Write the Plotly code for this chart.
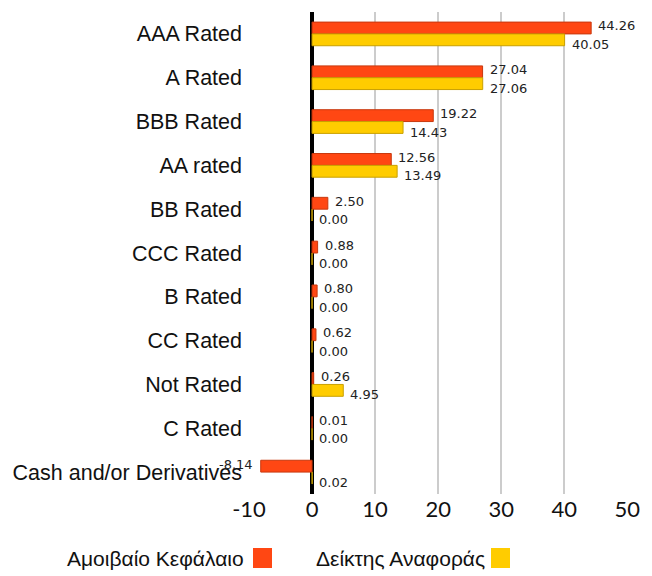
import plotly.graph_objects as go

categories = ['AAA Rated', 'A Rated', 'BBB Rated', 'AA rated', 'BB Rated', 'CCC Rated',
              'B Rated', 'CC Rated', 'Not Rated', 'C Rated', 'Cash and/or Derivatives']
fund = [44.26, 27.04, 19.22, 12.56, 2.50, 0.88, 0.80, 0.62, 0.26, 0.01, -8.14]
benchmark = [40.05, 27.06, 14.43, 13.49, 0.00, 0.00, 0.00, 0.00, 4.95, 0.00, 0.02]
series_names = ['Αμοιβαίο Κεφάλαιο', 'Δείκτης Αναφοράς']
tick_values = [-10, 0, 10, 20, 30, 40, 50]
tick_labels = ['-10', '0', '10', '20', '30', '40', '50']

RED, RED_EDGE = '#FF4713', '#C8380E'
YELLOW, YELLOW_EDGE = '#FFCC00', '#C9A000'
W, H = 652, 576
OFF = 8  # the page body has an 8px margin, so everything sits 8px right/down
L, T = 249 - OFF, 12 - OFF
R, B = W - (628 - OFF), H - (494 - OFF)

fig = go.Figure()
for vals, name, col, edge in [(fund, series_names[0], RED, RED_EDGE),
                              (benchmark, series_names[1], YELLOW, YELLOW_EDGE)]:
    fig.add_trace(go.Bar(
        y=categories, x=vals, name=name, orientation='h',
        marker=dict(color=col, line=dict(color=edge, width=1)),
        showlegend=False, hoverinfo='x+y',
    ))

# value labels: red ones nudged up, yellow ones nudged down, like the original
for vals, dy in [(fund, 8), (benchmark, -10.5)]:
    for cat, v in zip(categories, vals):
        fig.add_annotation(
            x=v, y=cat, xref='x', yref='y', text=f'{v:.2f}', showarrow=False,
            xanchor='left' if v >= 0 else 'right', xshift=5 if v >= 0 else -6,
            yshift=dy, yanchor='middle',
            font=dict(family='DejaVu Sans', size=13, color='#222'),
        )

fig.update_layout(
    width=W, height=H, barmode='group', bargap=0.46, bargroupgap=0,
    margin=dict(l=L, r=R, t=T, b=B, autoexpand=False),
    plot_bgcolor='white', paper_bgcolor='white',
    font=dict(family='Liberation Sans, Arial', color='#111'),
)
fig.update_xaxes(
    range=[-10, 50.1], tickvals=tick_values, ticktext=tick_labels,
    tickfont=dict(family='Lato', size=22, color='#111'),
    showgrid=True, gridcolor='#cccccc', gridwidth=2,
    zeroline=True, zerolinecolor='black', zerolinewidth=4,
    showline=False, ticks='', automargin=False,
)
fig.update_yaxes(
    autorange='reversed', tickfont=dict(size=21.5, color='#111'),
    showgrid=False, ticks='', ticklabelstandoff=6, automargin=False,
)

# legend drawn by hand: text first, colour square after it (window pixels)
def px_x(p):
    return (p - OFF - L) / (W - L - R)

def px_y(p):
    return (H - B - (p - OFF)) / (H - T - B)

for right_px, sq_px, name, col in [(246, 253, series_names[0], RED),
                                   (487, 491, series_names[1], YELLOW)]:
    fig.add_annotation(x=px_x(right_px), y=px_y(558), xref='paper', yref='paper',
                       text=name, showarrow=False, xanchor='right', yanchor='middle',
                       font=dict(size=21, color='#111'))
    fig.add_shape(type='rect', xref='paper', yref='paper',
                  x0=px_x(sq_px), x1=px_x(sq_px + 19), y0=px_y(568), y1=px_y(548),
                  fillcolor=col, line=dict(width=0))

fig.write_html('out.html')
